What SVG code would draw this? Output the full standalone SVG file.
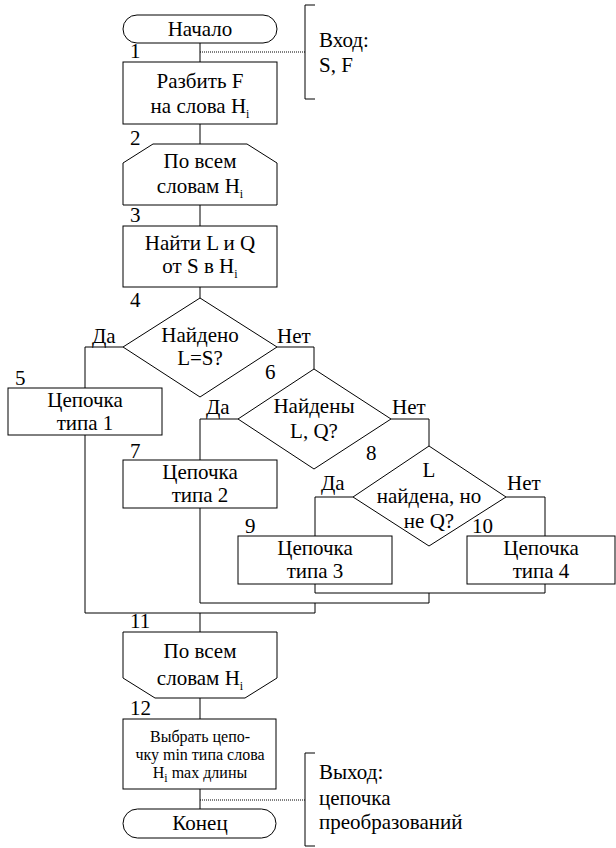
<svg xmlns="http://www.w3.org/2000/svg" width="616" height="848" viewBox="0 0 616 848">
<style>
.s{fill:#fff;stroke:#000;stroke-width:1}
.c{fill:none;stroke:#000;stroke-width:1}
.d{fill:none;stroke:#000;stroke-width:1;stroke-dasharray:1 1}
text{font-family:"Liberation Serif","Times New Roman",serif;font-size:21px;fill:#000}
.m{text-anchor:middle}
.sm{font-size:16px}
.sub{font-size:12px}
</style>
<rect width="616" height="848" fill="#fff"/>
<g id="connectors">
<path class="c" d="M200,43V62M200,124V144M200,205V226M200,287V298"/>
<path class="c" d="M123,347H85V388M277,347H314V369"/>
<path class="c" d="M238,419H200V460M391,419H429V446"/>
<path class="c" d="M353,497H315V536M506,497H545V536"/>
<path class="c" d="M315,584V593H545V584M429,593V603M200,508V603H429M315,603V613M85,435V613H315M200,613V632"/>
<path class="c" d="M200,698V719M200,789V809"/>
<path class="d" d="M200,52H305M200,800H305"/>
</g>
<g id="labels">
<text x="130" y="58">1</text>
<text x="130" y="145">2</text>
<text x="130" y="222">3</text>
<text x="130" y="307">4</text>
<text x="15" y="385">5</text>
<text x="265" y="379">6</text>
<text x="130" y="458">7</text>
<text x="366" y="460">8</text>
<text x="245" y="533">9</text>
<text x="472" y="533">10</text>
<text x="130" y="628">11</text>
<text x="130" y="715">12</text>
<text x="92" y="343">Да</text>
<text x="277" y="343">Нет</text>
<text x="206" y="414">Да</text>
<text x="392" y="414">Нет</text>
<text x="321" y="490">Да</text>
<text x="507" y="490">Нет</text>
</g>
<g id="n0">
<rect class="s" x="123" y="15" width="154" height="28" rx="14"/>
<text class="m" x="200" y="36">Начало</text>
</g>
<g id="n1">
<rect class="s" x="123" y="62" width="154" height="62"/>
<text class="m" x="200" y="88">Разбить F</text>
<text class="m" x="200" y="113">на слова H<tspan class="sub" dy="5">i</tspan></text>
</g>
<g id="n2">
<polygon class="s" points="153,144 247,144 277,163 277,205 123,205 123,163"/>
<text class="m" x="200" y="168">По всем</text>
<text class="m" x="200" y="193">словам H<tspan class="sub" dy="5">i</tspan></text>
</g>
<g id="n3">
<rect class="s" x="123" y="226" width="154" height="61"/>
<text class="m" x="200" y="250">Найти L и Q</text>
<text class="m" x="200" y="273">от S в H<tspan class="sub" dy="5">i</tspan></text>
</g>
<g id="n4">
<polygon class="s" points="200,298 277,347 200,397 123,347"/>
<text class="m" x="200" y="342">Найдено</text>
<text class="m" x="200" y="365">L=S?</text>
</g>
<g id="n5">
<rect class="s" x="8" y="388" width="154" height="47"/>
<text class="m" x="85" y="407">Цепочка</text>
<text class="m" x="85" y="430">типа 1</text>
</g>
<g id="n6">
<polygon class="s" points="314,369 391,419 314,469 238,419"/>
<text class="m" x="314" y="413">Найдены</text>
<text class="m" x="314" y="438">L, Q?</text>
</g>
<g id="n7">
<rect class="s" x="123" y="460" width="154" height="48"/>
<text class="m" x="200" y="479">Цепочка</text>
<text class="m" x="200" y="502">типа 2</text>
</g>
<g id="n8">
<polygon class="s" points="429,446 506,497 429,546 353,497"/>
<text class="m" x="429" y="477">L</text>
<text class="m" x="429" y="503">найдена, но</text>
<text class="m" x="429" y="528">не Q?</text>
</g>
<g id="n9">
<rect class="s" x="238" y="536" width="154" height="48"/>
<text class="m" x="315" y="555">Цепочка</text>
<text class="m" x="315" y="578">типа 3</text>
</g>
<g id="n10">
<rect class="s" x="467" y="536" width="148" height="48"/>
<text class="m" x="541" y="555">Цепочка</text>
<text class="m" x="541" y="578">типа 4</text>
</g>
<g id="n11">
<polygon class="s" points="123,632 277,632 277,678 245,698 155,698 123,678"/>
<text class="m" x="200" y="658">По всем</text>
<text class="m" x="200" y="685">словам H<tspan class="sub" dy="5">i</tspan></text>
</g>
<g id="n12">
<rect class="s" x="123" y="719" width="153" height="70"/>
<text class="m sm" x="200" y="742">Выбрать цепо-</text>
<text class="m sm" x="200" y="760">чку min типа слова</text>
<text class="m sm" x="200" y="778">H<tspan class="sub" font-size="10" dy="4">i</tspan><tspan dy="-4"> max длины</tspan></text>
</g>
<g id="n13">
<rect class="s" x="123" y="809" width="153" height="29" rx="14.5"/>
<text class="m" x="200" y="830">Конец</text>
</g>
<g id="in">
<path class="c" d="M315,5H305V99H315"/>
<text x="319" y="47">Вход:</text>
<text x="319" y="72">S, F</text>
</g>
<g id="out">
<path class="c" d="M315,753H305V846H315"/>
<text x="319" y="779">Выход:</text>
<text x="319" y="805">цепочка</text>
<text x="319" y="829">преобразований</text>
</g>
</svg>
